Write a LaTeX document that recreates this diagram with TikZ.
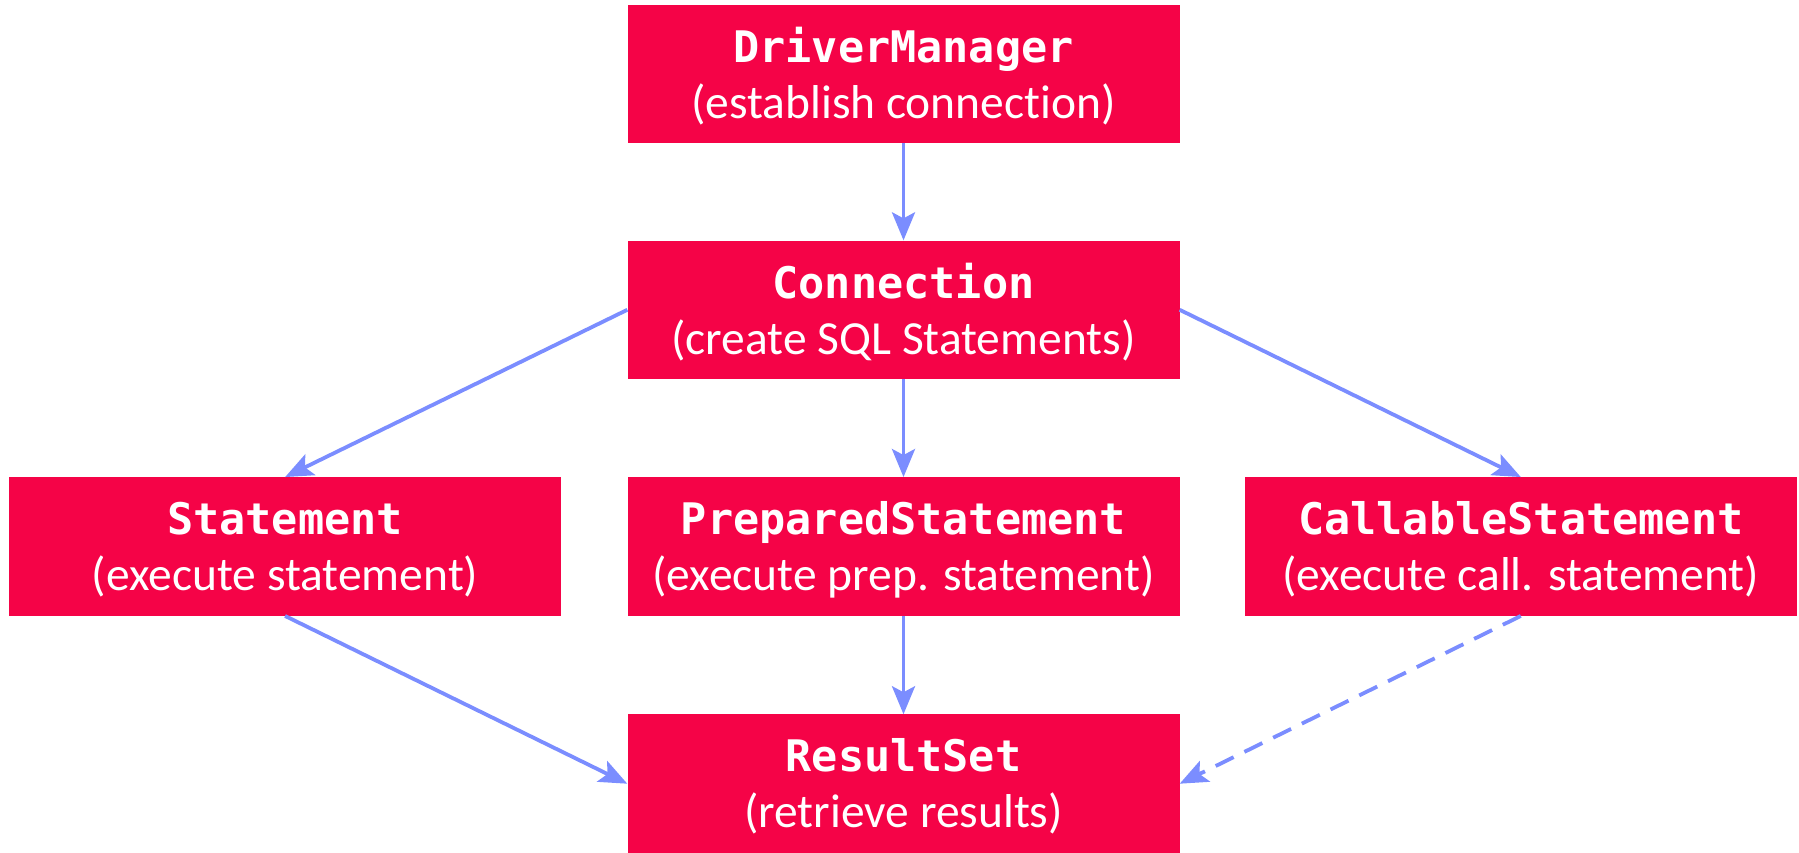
\documentclass[tikz,border=0pt]{standalone}
\usepackage{fontspec}
\setmainfont{Carlito}[Ligatures=NoCommon]
\newfontfamily\codefont{DejaVu Sans Mono}
\usetikzlibrary{arrows.meta}

\definecolor{boxred}{RGB}{245,3,71}
\definecolor{flowblue}{RGB}{123,141,255}

\tikzset{
  stage/.style={fill=boxred, text=white, minimum width=552pt, minimum height=138.5pt,
    inner sep=0pt, align=center, font={\fontsize{47.5}{56}\selectfont}},
  flow/.style={draw=flowblue, line width=3.8pt,
    -{Stealth[length=28pt,width=23pt,inset=6pt]}},
  optflow/.style={flow, dash pattern=on 20pt off 12pt},
}
% class name in bold mono, purpose below it
\newcommand{\stagetext}[2]{{\codefont\bfseries\fontsize{43.5}{56}\selectfont\rule{0pt}{39pt}#1}\\#2}

\begin{document}
\begin{tikzpicture}[x=1pt,y=1pt]
  \useasboundingbox (0,0) rectangle (1799,-853);

  \node[stage] (dm)   at (903.5,-74)    {\stagetext{DriverManager}{(establish connection)}};
  \node[stage] (conn) at (903.5,-309.8) {\stagetext{Connection}{(create SQL Statements)}};
  \node[stage] (st)   at (285.1,-546.5) {\stagetext{Statement}{(execute statement)}};
  \node[stage] (pst)  at (903.5,-546.5) {\stagetext{PreparedStatement}{(execute prep. statement)}};
  \node[stage] (cst)  at (1520.8,-546.5){\stagetext{CallableStatement}{(execute call. statement)}};
  \node[stage] (rs)   at (903.5,-783.7) {\stagetext{ResultSet}{(retrieve results)}};

  \draw[flow] (dm.south) -- (conn.north);
  \draw[flow] (conn.west) -- (st.north);
  \draw[flow] (conn.south) -- (pst.north);
  \draw[flow] (conn.east) -- (cst.north);
  \draw[flow] (st.south) -- (rs.west);
  \draw[flow] (pst.south) -- (rs.north);
  \draw[optflow] (cst.south) -- (rs.east);
\end{tikzpicture}
\end{document}
